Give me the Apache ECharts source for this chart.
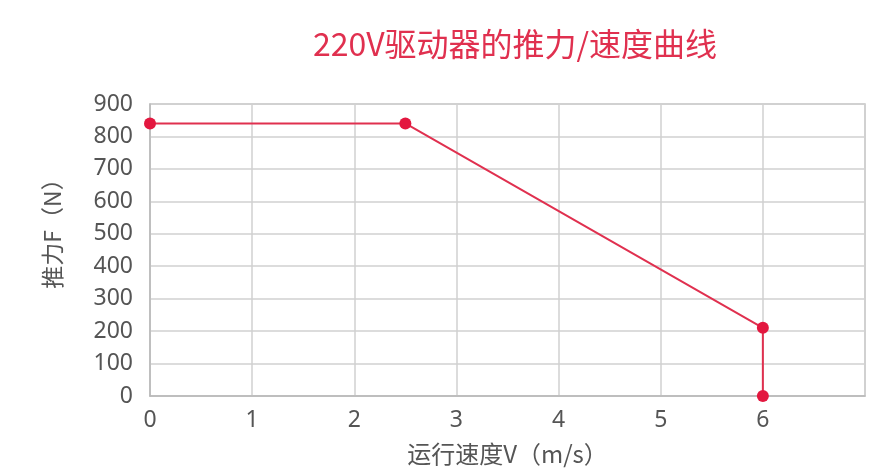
<!DOCTYPE html>
<html><head><meta charset="utf-8">
<script src="https://cdn.jsdelivr.net/npm/echarts@6/dist/echarts.min.js"></script>
<style>html,body{margin:0;padding:0;background:#fff}#c{width:885px;height:476px}</style>
</head><body><div id="c"></div>
<script>
const titleText = '220V驱动器的推力/速度曲线';
const xName = '运行速度V（m/s）';
const yName = '推力F（N）';
const speed = [0, 2.5, 6, 6];
const force = [840, 840, 210, 0];

const chart = echarts.init(document.getElementById('c'));
const font = '"Noto Sans CJK SC", "Noto Sans", sans-serif';
const numFont = '"Noto Sans", "Noto Sans CJK SC", sans-serif';
chart.setOption({
  animation: false,
  backgroundColor: '#fff',
  title: {
    text: titleText, left: 510, top: 23, textAlign: 'center',
    textStyle: { color: '#e0304f', fontSize: 32, fontWeight: 'normal', fontFamily: font }
  },
  grid: { left: 150, right: 20, top: 104, bottom: 80, show: true, borderColor: '#c4c4c4', borderWidth: 1.5 },
  xAxis: {
    type: 'value', min: 0, max: 7, interval: 1,
    name: xName, nameLocation: 'middle', nameGap: 46,
    nameTextStyle: { color: '#555', fontSize: 24, fontFamily: font },
    axisLine: { show: true, lineStyle: { color: '#b8b8b8', width: 1.5 } },
    axisTick: { show: false },
    axisLabel: { color: '#555', fontSize: 23, fontFamily: numFont, margin: 13,
      formatter: v => v === 7 ? '' : String(v) },
    splitLine: { show: true, lineStyle: { color: '#d0d0d0', width: 1.5 } }
  },
  yAxis: {
    type: 'value', min: 0, max: 900, interval: 100,
    name: yName, nameLocation: 'middle', nameGap: 86, nameRotate: 90,
    nameTextStyle: { color: '#555', fontSize: 23, fontFamily: font, padding: [0, 0, 0, 44] },
    axisLine: { show: true, lineStyle: { color: '#b8b8b8', width: 1.5 } },
    axisTick: { show: false },
    axisLabel: { color: '#555', fontSize: 23, fontFamily: numFont, margin: 17 },
    splitLine: { show: true, lineStyle: { color: '#d0d0d0', width: 1.5 } }
  },
  series: [{
    type: 'line',
    data: speed.map((s, i) => [s, force[i]]),
    symbol: 'circle', symbolSize: 12,
    lineStyle: { color: '#e0304f', width: 2 },
    itemStyle: { color: '#e3173f' },
    clip: false
  }]
});
</script></body></html>
